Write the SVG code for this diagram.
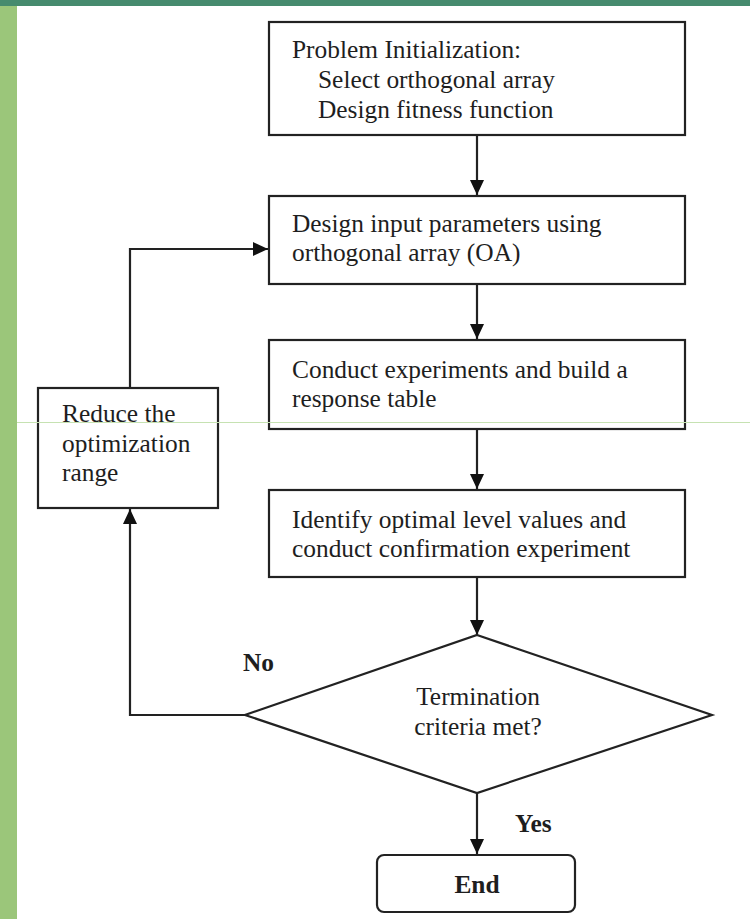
<svg xmlns="http://www.w3.org/2000/svg" width="750" height="919" viewBox="0 0 750 919">
<style>
.box{fill:#fff;stroke:#222;stroke-width:2.2}
.t{font-family:"Liberation Serif","Times New Roman",serif;font-size:25.4px;fill:#1e1e1e}
.b{font-weight:bold}
.c{text-anchor:middle}
.ln{fill:none;stroke:#222;stroke-width:2.2}
</style>
<defs>
<marker id="ah" viewBox="0 0 15 14" refX="15" refY="7" markerWidth="15" markerHeight="14" markerUnits="userSpaceOnUse" orient="auto">
<path d="M0,0 L15,7 L0,14 Z" fill="#111"/>
</marker>
</defs>
<rect x="0" y="0" width="750" height="919" fill="#fff"/>
<rect x="0" y="0" width="750" height="6" fill="#468B6E"/>
<rect x="0" y="6" width="17" height="913" fill="#9BC67A"/>

<g id="connectors">
<line class="ln" x1="477" y1="135" x2="477" y2="195" marker-end="url(#ah)"/>
<line class="ln" x1="477" y1="284" x2="477" y2="339" marker-end="url(#ah)"/>
<line class="ln" x1="477" y1="429" x2="477" y2="489" marker-end="url(#ah)"/>
<line class="ln" x1="477" y1="577" x2="477" y2="635" marker-end="url(#ah)"/>
<line class="ln" x1="477" y1="793" x2="477" y2="854" marker-end="url(#ah)"/>
<polyline class="ln" points="245,715 130,715 130,509" marker-end="url(#ah)"/>
<polyline class="ln" points="130,388 130,249 268,249" marker-end="url(#ah)"/>
</g>

<g id="init">
<rect class="box" x="269" y="22" width="416" height="113"/>
<text class="t" x="292" y="58">Problem Initialization:</text>
<text class="t" x="318" y="88">Select orthogonal array</text>
<text class="t" x="318" y="118">Design fitness function</text>
</g>
<g id="design">
<rect class="box" x="269" y="196" width="416" height="88"/>
<text class="t" x="292" y="232">Design input parameters using</text>
<text class="t" x="292" y="261">orthogonal array (OA)</text>
</g>
<g id="conduct">
<rect class="box" x="269" y="340" width="416" height="89"/>
<text class="t" x="292" y="378">Conduct experiments and build a</text>
<text class="t" x="292" y="407">response table</text>
</g>
<g id="identify">
<rect class="box" x="269" y="490" width="416" height="87"/>
<text class="t" x="292" y="528">Identify optimal level values and</text>
<text class="t" x="292" y="557">conduct confirmation experiment</text>
</g>
<g id="reduce">
<rect class="box" x="38" y="388" width="180" height="120"/>
<text class="t" x="62" y="422">Reduce the</text>
<text class="t" x="62" y="452">optimization</text>
<text class="t" x="62" y="481">range</text>
</g>
<g id="decision">
<polygon class="box" points="477,635 712,715 477,793 245,715"/>
<text class="t c" x="478" y="705">Termination</text>
<text class="t c" x="478" y="735">criteria met?</text>
</g>
<g id="end">
<rect class="box" x="377" y="855" width="198" height="57" rx="7"/>
<text class="t b c" x="477" y="893">End</text>
</g>
<g id="labels">
<text class="t b" x="243" y="671">No</text>
<text class="t b" x="515" y="832">Yes</text>
</g>
<line x1="17" y1="422.5" x2="750" y2="422.5" stroke="#c6e2b2" stroke-width="1"/>
</svg>
